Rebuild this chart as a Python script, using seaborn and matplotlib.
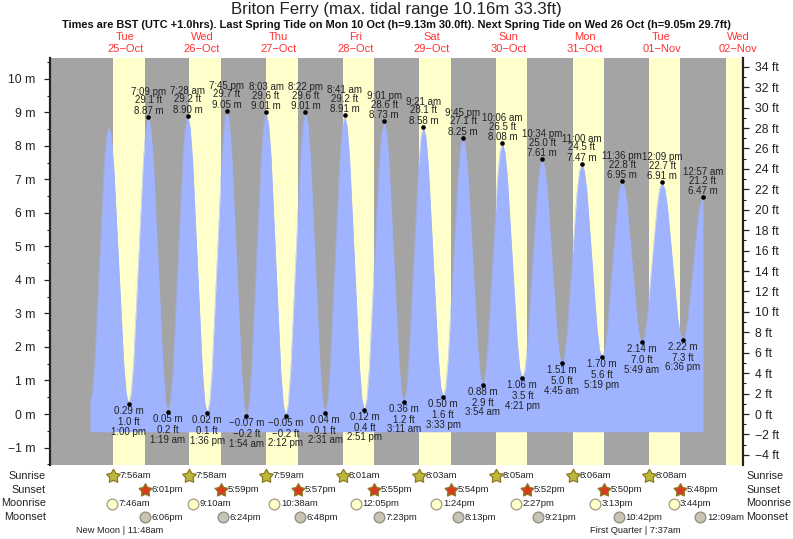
import matplotlib
matplotlib.use("Agg")
import matplotlib.pyplot as plt
from matplotlib.path import Path
from matplotlib.ticker import MultipleLocator, FuncFormatter
from matplotlib.transforms import blended_transform_factory
import pandas as pd
import seaborn as sns

# times are hours after midnight on Tue 25 Oct
tide_hours = [0.88, 1.61, 2.35, 3.82, 5.28, 6.02, 6.75,
              7.53, 8.31, 9.88, 11.44, 12.22, 13.0,
              13.77, 14.54, 16.08, 17.61, 18.38, 19.15,
              19.92, 20.69, 22.24, 23.78, 24.55, 25.32,
              26.09, 26.86, 28.40, 29.93, 30.7, 31.47,
              32.24, 33.0, 34.54, 36.07, 36.83, 37.6,
              38.37, 39.14, 40.68, 42.21, 42.98, 43.75,
              44.52, 45.29, 46.83, 48.36, 49.13, 49.9,
              50.67, 51.44, 52.98, 54.51, 55.28, 56.05,
              56.82, 57.59, 59.13, 60.66, 61.43, 62.2,
              62.97, 63.74, 65.29, 66.83, 67.6, 68.37,
              69.14, 69.91, 71.45, 72.98, 73.75, 74.52,
              75.29, 76.06, 77.6, 79.14, 79.91, 80.68,
              81.45, 82.22, 83.77, 85.31, 86.08, 86.85,
              87.62, 88.39, 89.94, 91.48, 92.25, 93.02,
              93.79, 94.56, 96.10, 97.64, 98.41, 99.18,
              99.95, 100.72, 102.27, 103.81, 104.58, 105.35,
              106.13, 106.9, 108.45, 110.0, 110.77, 111.55,
              112.33, 113.1, 114.65, 116.2, 116.97, 117.75,
              118.52, 119.29, 120.83, 122.36, 123.13, 123.9,
              124.68, 125.45, 127.0, 128.55, 129.32, 130.1,
              130.88, 131.66, 133.23, 134.79, 135.57, 136.35,
              137.13, 137.9, 139.46, 141.02, 141.79, 142.57,
              143.34, 144.12, 145.66, 147.2, 147.98, 148.75,
              149.53, 150.31, 151.88, 153.44, 154.22, 155.0,
              155.79, 156.58, 158.16, 159.74, 160.53, 161.32,
              162.11, 162.89, 164.46, 166.03, 166.81, 167.6,
              168.38, 169.16, 170.71, 172.27, 173.04, 173.82,
              174.61, 175.4, 176.99, 178.57, 179.36, 180.15,
              180.96, 181.76, 183.38, 184.99, 185.79, 186.6,
              187.39, 188.19, 189.78, 191.36, 192.16, 192.95]
tide_m = [0.35, 0.66, 1.55, 4.48, 7.40, 8.29, 8.6,
          8.28, 7.39, 4.45, 1.50, 0.61, 0.29,
          0.62, 1.54, 4.58, 7.62, 8.54, 8.87,
          8.53, 7.58, 4.46, 1.34, 0.39, 0.05,
          0.39, 1.34, 4.48, 7.61, 8.56, 8.90,
          8.56, 7.60, 4.46, 1.32, 0.36, 0.02,
          0.36, 1.34, 4.54, 7.73, 8.71, 9.05,
          8.70, 7.72, 4.49, 1.26, 0.28, -0.07,
          0.28, 1.26, 4.47, 7.68, 8.66, 9.01,
          8.67, 7.69, 4.48, 1.27, 0.29, -0.05,
          0.29, 1.27, 4.48, 7.69, 8.67, 9.01,
          8.67, 7.70, 4.53, 1.35, 0.38, 0.04,
          0.38, 1.34, 4.48, 7.61, 8.57, 8.91,
          8.58, 7.63, 4.52, 1.40, 0.45, 0.12,
          0.45, 1.38, 4.43, 7.47, 8.40, 8.73,
          8.41, 7.51, 4.55, 1.58, 0.68, 0.36,
          0.67, 1.56, 4.47, 7.38, 8.27, 8.58,
          8.27, 7.40, 4.54, 1.68, 0.81, 0.50,
          0.79, 1.63, 4.38, 7.12, 7.96, 8.25,
          7.97, 7.17, 4.57, 1.96, 1.16, 0.88,
          1.15, 1.93, 4.48, 7.03, 7.81, 8.08,
          7.81, 7.06, 4.57, 2.09, 1.33, 1.06,
          1.31, 2.02, 4.34, 6.65, 7.36, 7.61,
          7.38, 6.72, 4.56, 2.40, 1.74, 1.51,
          1.74, 2.38, 4.49, 6.60, 7.24, 7.47,
          7.25, 6.63, 4.59, 2.54, 1.92, 1.70,
          1.90, 2.47, 4.33, 6.18, 6.75, 6.95,
          6.77, 6.25, 4.55, 2.84, 2.32, 2.14,
          2.32, 2.84, 4.53, 6.21, 6.73, 6.91,
          6.73, 6.23, 4.57, 2.90, 2.40, 2.22,
          2.38, 2.84, 4.35, 5.85, 6.31, 6.47]

low_hours = [13.0, 25.32, 37.6, 49.9, 62.2, 74.52, 86.85, 99.18, 111.55, 123.9, 136.35, 148.75, 161.32, 173.82, 186.6]
low_m = [0.29, 0.05, 0.02, -0.07, -0.05, 0.04, 0.12, 0.36, 0.50, 0.88, 1.06, 1.51, 1.70, 2.14, 2.22]
low_ft = ["1.0", "0.2", "0.1", "\u22120.2", "\u22120.2", "0.1", "0.4", "1.2", "1.6", "2.9", "3.5", "5.0", "5.6", "7.0", "7.3"]
low_time = ["1:00 pm", "1:19 am", "1:36 pm", "1:54 am", "2:12 pm", "2:31 am", "2:51 pm", "3:11 am",
            "3:33 pm", "3:54 am", "4:21 pm", "4:45 am", "5:19 pm", "5:49 am", "6:36 pm"]

high_hours = [19.15, 31.47, 43.75, 56.05, 68.37, 80.68, 93.02, 105.35, 117.75, 130.1, 142.57, 155.0, 167.6, 180.15, 192.95]
high_m = [8.87, 8.90, 9.05, 9.01, 9.01, 8.91, 8.73, 8.58, 8.25, 8.08, 7.61, 7.47, 6.95, 6.91, 6.47]
high_ft = ["29.1", "29.2", "29.7", "29.6", "29.6", "29.2", "28.6", "28.1", "27.1", "26.5", "25.0", "24.5", "22.8", "22.7", "21.2"]
high_time = ["7:09 pm", "7:28 am", "7:45 pm", "8:03 am", "8:22 pm", "8:41 am", "9:01 pm", "9:21 am",
             "9:45 pm", "10:06 am", "10:34 pm", "11:00 am", "11:36 pm", "12:09 pm", "12:57 am"]

day_names = ["Tue", "Wed", "Thu", "Fri", "Sat", "Sun", "Mon", "Tue", "Wed"]
day_dates = ["25\u2212Oct", "26\u2212Oct", "27\u2212Oct", "28\u2212Oct", "29\u2212Oct", "30\u2212Oct", "31\u2212Oct", "01\u2212Nov", "02\u2212Nov"]

sunrise = ["7:56am", "7:58am", "7:59am", "8:01am", "8:03am", "8:05am", "8:06am", "8:08am"]
sunset = ["6:01pm", "5:59pm", "5:57pm", "5:55pm", "5:54pm", "5:52pm", "5:50pm", "5:48pm"]
moonrise = ["7:46am", "9:10am", "10:38am", "12:05pm", "1:24pm", "2:27pm", "3:13pm", "3:44pm"]
moonset = ["6:06pm", "6:24pm", "6:48pm", "7:23pm", "8:13pm", "9:21pm", "10:42pm", "12:09am"]
moonset_days = [0, 1, 2, 3, 4, 5, 6, 8]
last_sunrise = 200.15

GREY = "#a4a4a4"
YELLOW = "#ffffcc"
BLUE = "#9fb3ff"
RED = "#ff3333"
INK = "#222222"


def to_hours(label, day):
    t = pd.to_datetime(label, format="%I:%M%p")
    return day * 24 + t.hour + t.minute / 60


sns.set_style("ticks")
plt.rcParams["font.family"] = ["Liberation Sans", "DejaVu Sans"]
W, H = 793, 539

fig = plt.figure(figsize=(W / 100, H / 100), dpi=100)
ax = fig.add_axes([49.5 / W, 1 - 465 / H, (743.3 - 49.5) / W, (465 - 57.5) / H])
ax.set_facecolor(GREY)
ax.set_xlim(-11.82, 205.58)
ax.set_ylim(-1.522, 10.64)

# day bands
rise_h = [to_hours(s, i) for i, s in enumerate(sunrise)]
set_h = [to_hours(s, i) for i, s in enumerate(sunset)]
for a, b in zip(rise_h, set_h):
    ax.axvspan(a, b, color=YELLOW, lw=0, zorder=1)
ax.axvspan(last_sunrise, 205.58, color=YELLOW, lw=0, zorder=1)

# tide
tide = pd.DataFrame({"hours": tide_hours, "m": tide_m})
ax.fill_between(tide["hours"], -0.53, tide["m"], color=BLUE, lw=0, zorder=2)
sns.lineplot(data=tide, x="hours", y="m", color=BLUE, lw=0.3, ax=ax, zorder=3, errorbar=None)
ext = pd.DataFrame({"hours": low_hours + high_hours, "m": low_m + high_m})
sns.scatterplot(data=ext, x="hours", y="m", color="black", s=11, lw=0, ax=ax, zorder=4)
ax.set_xlabel("")
ax.set_ylabel("")
ax.set_xticks([])

# tide labels
for x, m, ft, tm in zip(high_hours, high_m, high_ft, high_time):
    for txt, off in zip([f"{m:.2f} m", f"{ft} ft", tm], [6, 16.5, 25]):
        ax.annotate(txt, (x, m), xytext=(0, off), textcoords="offset pixels", ha="center", va="center",
                    fontsize=7, color=INK, zorder=5, annotation_clip=False)
for x, m, ft, tm in zip(low_hours, low_m, low_ft, low_time):
    mtxt = f"{m:.2f} m".replace("-", "\u2212")
    for txt, off in zip([mtxt, f"{ft} ft", tm], [-7, -18, -27.5]):
        ax.annotate(txt, (x, m), xytext=(0, off), textcoords="offset pixels", ha="center", va="center",
                    fontsize=7, color=INK, zorder=5, annotation_clip=False)

# axes
ax.yaxis.set_major_locator(MultipleLocator(1))
ax.yaxis.set_minor_locator(MultipleLocator(0.5))
ax.yaxis.set_major_formatter(FuncFormatter(lambda v, p: f"{v:.0f} m".replace("-", "\u2212")))
ax.tick_params(axis="y", which="major", length=4.5, width=0.9, labelsize=8.8, pad=5.5, labelcolor=INK, color=INK)
ax.tick_params(axis="y", which="minor", length=2.3, width=0.8, color=INK)

ax2 = ax.twinx()
ax2.set_ylim(-1.522 * 3.28084, 10.64 * 3.28084)
ax2.yaxis.set_major_locator(MultipleLocator(2))
ax2.yaxis.set_minor_locator(MultipleLocator(1))
ax2.yaxis.set_major_formatter(FuncFormatter(lambda v, p: f"{v:.0f} ft".replace("-", "\u2212")))
ax2.tick_params(axis="y", which="major", length=4.5, width=0.9, labelsize=8.8, pad=4, labelcolor=INK, color=INK)
ax2.tick_params(axis="y", which="minor", length=2.3, width=0.8, color=INK)
for a in (ax, ax2):
    a.spines["top"].set_visible(False)
    a.spines["bottom"].set_visible(False)
    a.spines["left"].set_linewidth(1.5)
    a.spines["right"].set_linewidth(1.5)
    a.spines["left"].set_color(INK)
    a.spines["right"].set_color(INK)

# headings
fig.text(396.5 / W, 1 - 9.5 / H, "Briton Ferry (max. tidal range 10.16m 33.3ft)", ha="center", va="center",
         fontsize=12.1, color=INK)
fig.text(396 / W, 1 - 25 / H,
         "Times are BST (UTC +1.0hrs). Last Spring Tide on Mon 10 Oct (h=9.13m 30.0ft). "
         "Next Spring Tide on Wed 26 Oct (h=9.05m 29.7ft)",
         ha="center", va="center", fontsize=7.9, fontweight="bold", color="#111111")

by_fig = blended_transform_factory(ax.transData, fig.transFigure)
for i, (name, date) in enumerate(zip(day_names, day_dates)):
    ax.text(i * 24 + 12, 1 - 37 / H, name, transform=by_fig, ha="center", va="center", fontsize=8, color=RED, clip_on=False)
    ax.text(i * 24 + 12, 1 - 49 / H, date, transform=by_fig, ha="center", va="center", fontsize=8, color=RED, clip_on=False)

# sun and moon rows
row_y = {"Sunrise": 476, "Sunset": 490, "Moonrise": 503.5, "Moonset": 517}
for name, y in row_y.items():
    fig.text(46 / W, 1 - y / H, name, ha="right", va="center", fontsize=7.8, color=INK)
    fig.text(746.5 / W, 1 - y / H, name, ha="left", va="center", fontsize=7.8, color=INK)

fat_star = Path.unit_regular_star(5, innerCircle=0.55)


def row(labels, hours, y, marker, size, face, edge):
    fy = 1 - y / H
    ax.scatter(hours, [fy] * len(hours), transform=by_fig, marker=marker, s=size, facecolor=face,
               edgecolor=edge, linewidth=0.9, clip_on=False, zorder=6)
    for lab, x in zip(labels, hours):
        ax.annotate(lab, (x, fy), xycoords=by_fig, xytext=(6.5, 0), textcoords="offset pixels",
                    ha="left", va="center", fontsize=6.8, color=INK, annotation_clip=False)


row(sunrise, rise_h, 476, fat_star, 105, "#bdb83c", "#8a7a20")
row(sunset, set_h, 490, fat_star, 95, "#d93a1e", "#8a7a20")
row(moonrise, [to_hours(s, i) for i, s in enumerate(moonrise)], 503.5, "o", 60, YELLOW, "#a09c80")
row(moonset, [to_hours(s, d) for s, d in zip(moonset, moonset_days)], 517, "o", 60, "#c8c4b4", "#8c8c80")

fig.text(120 / W, 1 - 530.5 / H, "New Moon | 11:48am", ha="center", va="center", fontsize=6.7, color=INK)
fig.text(635.5 / W, 1 - 530.5 / H, "First Quarter | 7:37am", ha="center", va="center", fontsize=6.7, color=INK)

ax.set_xlim(-11.82, 205.58)
fig.savefig("out.png", dpi=100)
